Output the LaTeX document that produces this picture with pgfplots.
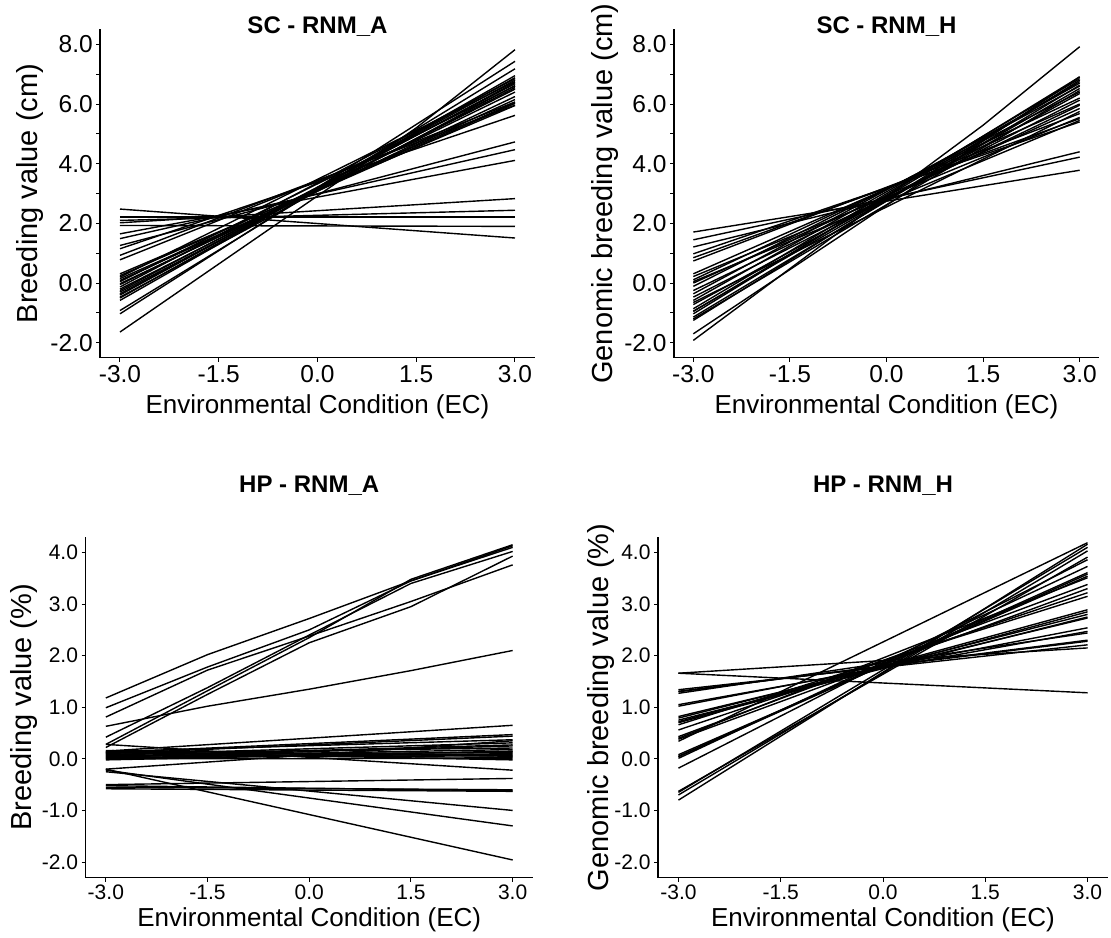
\documentclass[border=0pt]{standalone}
\usepackage{fontspec}
\setmainfont{Liberation Sans}
\usepackage{pgfplots}
\pgfplotsset{compat=1.18}

% shared look of the four reaction-norm panels
\pgfplotsset{
  rnm/.style={
    scale only axis,
    axis x line*=bottom, axis y line*=left,
    axis line style={-, line width=1.6pt},
    tick align=outside,
    major tick length=4pt,
    tick style={black, line width=1pt},
    xmin=-3.3, xmax=3.3,
    xtick={-3,-1.5,0,1.5,3},
    xticklabels={-3.0,-1.5,0.0,1.5,3.0},
    title style={font=\fontsize{24}{28}\selectfont\bfseries, anchor=center},
    xlabel style={font=\fontsize{26}{30}\selectfont, anchor=center},
    ylabel style={font=\fontsize{29}{33}\selectfont, anchor=center, rotate=0},
    xlabel={Environmental Condition (EC)},
  },
  top/.style={
    ymin=-2.5, ymax=8.5, height=328.3pt,
    ytick={-2,-1,...,8},
    yticklabels={-2.0,,0.0,,2.0,,4.0,,6.0,,8.0},
    tick label style={font=\fontsize{24.5}{24}\selectfont},
    title style={at={(axis description cs:0.5,0.989)}},
    xlabel style={at={(axis description cs:0.5,-0.149)}},
  },
  bot/.style={
    ymin=-2.3, ymax=4.3, height=340.5pt,
    ytick={-2,-1,...,4},
    yticklabels={-2.0,-1.0,0.0,1.0,2.0,3.0,4.0},
    tick label style={font=\fontsize{21}{21}\selectfont},
    title style={at={(axis description cs:0.5,1.132)}},
    xlabel style={at={(axis description cs:0.5,-0.125)}},
  },
  rn/.style={black, line width=1.4pt, mark=none},
}

\begin{document}
\begin{tikzpicture}
\path[use as bounding box] (0,0) rectangle (1111pt,937pt);

% ---------------- SC - RNM_A ----------------
\begin{axis}[rnm, top, width=434.5pt, at={(100.25pt,579.3pt)}, anchor=south west,
  title={SC - RNM\_A}, ylabel={Breeding value (cm)},
  ylabel style={at={(axis description cs:-0.162,0.5)}}]
\addplot[rn] coordinates {(-3,2.48) (3,1.51)};
\addplot[rn] coordinates {(-3,2.21) (3,2.21)};
\addplot[rn] coordinates {(-3,2.10) (3,2.44)};
\addplot[rn] coordinates {(-3,2.02) (3,2.83)};
\addplot[rn] coordinates {(-3,1.93) (3,1.90)};
\addplot[rn] coordinates {(-3,1.65) (3,4.11)};
\addplot[rn] coordinates {(-3,1.49) (3,4.47)};
\addplot[rn] coordinates {(-3,1.26) (3,4.73)};
\addplot[rn] coordinates {(-3,1.15) (3,5.62)};
\addplot[rn] coordinates {(-3,0.93) (3,5.96)};
\addplot[rn] coordinates {(-3,0.78) (3,6.07)};
\addplot[rn] coordinates {(-3,-1.64) (1.5,5.20) (3,7.82)};
\addplot[rn] coordinates {(-3,-1.03) (3,7.43)};
\addplot[rn] coordinates {(-3,-0.92) (3,7.18)};
\addplot[rn] coordinates {(-3,-0.58) (3,6.95)};
\addplot[rn] coordinates {(-3,-0.50) (3,6.88)};
\addplot[rn] coordinates {(-3,-0.47) (3,6.62)};
\addplot[rn] coordinates {(-3,-0.40) (3,6.80)};
\addplot[rn] coordinates {(-3,-0.36) (3,6.72)};
\addplot[rn] coordinates {(-3,-0.30) (3,6.55)};
\addplot[rn] coordinates {(-3,-0.25) (3,6.68)};
\addplot[rn] coordinates {(-3,-0.20) (3,6.50)};
\addplot[rn] coordinates {(-3,-0.13) (3,6.85)};
\addplot[rn] coordinates {(-3,-0.05) (3,6.40)};
\addplot[rn] coordinates {(-3,-0.02) (3,6.25)};
\addplot[rn] coordinates {(-3,0.05) (3,6.60)};
\addplot[rn] coordinates {(-3,0.09) (3,6.15)};
\addplot[rn] coordinates {(-3,0.15) (3,6.02)};
\addplot[rn] coordinates {(-3,0.20) (3,6.75)};
\addplot[rn] coordinates {(-3,0.25) (3,6.05)};
\addplot[rn] coordinates {(-3,0.31) (3,5.95)};
\end{axis}

% ---------------- SC - RNM_H ----------------
\begin{axis}[rnm, top, width=425pt, at={(674pt,579.3pt)}, anchor=south west,
  title={SC - RNM\_H}, ylabel={Genomic breeding value (cm)},
  ylabel style={at={(axis description cs:-0.162,0.5)}}]
\addplot[rn] coordinates {(-3,1.71) (3,3.78)};
\addplot[rn] coordinates {(-3,1.45) (3,4.22)};
\addplot[rn] coordinates {(-3,1.21) (3,4.40)};
\addplot[rn] coordinates {(-3,0.98) (3,5.40)};
\addplot[rn] coordinates {(-3,0.85) (3,5.51)};
\addplot[rn] coordinates {(-3,0.74) (3,5.68)};
\addplot[rn] coordinates {(-3,-1.92) (1.5,5.29) (3,7.92)};
\addplot[rn] coordinates {(-3,-1.70) (3,6.91)};
\addplot[rn] coordinates {(-3,-1.25) (3,6.80)};
\addplot[rn] coordinates {(-3,-1.14) (3,6.63)};
\addplot[rn] coordinates {(-3,-1.03) (3,6.91)};
\addplot[rn] coordinates {(-3,-0.94) (3,6.52)};
\addplot[rn] coordinates {(-3,-0.86) (3,6.85)};
\addplot[rn] coordinates {(-3,-0.72) (3,6.35)};
\addplot[rn] coordinates {(-3,-0.58) (3,6.70)};
\addplot[rn] coordinates {(-3,-0.47) (3,6.13)};
\addplot[rn] coordinates {(-3,-0.36) (3,6.60)};
\addplot[rn] coordinates {(-3,-0.25) (3,5.96)};
\addplot[rn] coordinates {(-3,-0.11) (3,6.40)};
\addplot[rn] coordinates {(-3,0.00) (3,5.85)};
\addplot[rn] coordinates {(-3,0.11) (3,6.20)};
\addplot[rn] coordinates {(-3,0.22) (3,5.55)};
\addplot[rn] coordinates {(-3,0.31) (3,6.00)};
\addplot[rn] coordinates {(-3,-0.95) (3,6.75)};
\addplot[rn] coordinates {(-3,-1.20) (3,6.45)};
\addplot[rn] coordinates {(-3,-0.65) (3,5.75)};
\addplot[rn] coordinates {(-3,0.05) (3,5.45)};
\end{axis}

% ---------------- HP - RNM_A ----------------
\begin{axis}[rnm, bot, width=447.5pt, at={(85.5pt,59.5pt)}, anchor=south west,
  title={HP - RNM\_A}, ylabel={Breeding value (\%)},
  ylabel style={at={(axis description cs:-0.137,0.5)}}]
% upper group
\addplot[rn] coordinates {(-3,1.18) (-1.5,2.02) (0,2.72) (1.5,3.45) (3,4.13)};
\addplot[rn] coordinates {(-3,0.99) (-1.5,1.78) (0,2.50) (1.5,3.45) (3,4.10)};
\addplot[rn] coordinates {(-3,0.81) (-1.5,1.72) (0,2.38) (1.5,3.05) (3,3.76)};
\addplot[rn] coordinates {(-3,0.42) (-1.5,1.38) (0,2.40) (1.5,3.40) (3,4.02)};
\addplot[rn] coordinates {(-3,0.22) (-1.5,1.25) (0,2.25) (1.5,2.95) (3,3.93)};
\addplot[rn] coordinates {(-3,0.28) (-1.5,1.32) (0,2.35) (1.5,3.48) (3,4.15)};
\addplot[rn] coordinates {(-3,0.63) (-1.5,1.02) (0,1.35) (1.5,1.71) (3,2.10)};
% band around zero
\addplot[rn] coordinates {(-3,0.15) (3,0.65)};
\addplot[rn] coordinates {(-3,0.12) (3,0.47)};
\addplot[rn] coordinates {(-3,0.10) (3,0.44)};
\addplot[rn] coordinates {(-3,0.14) (3,0.37)};
\addplot[rn] coordinates {(-3,0.08) (3,0.31)};
\addplot[rn] coordinates {(-3,0.05) (3,0.27)};
\addplot[rn] coordinates {(-3,0.11) (3,0.21)};
\addplot[rn] coordinates {(-3,0.02) (3,0.14)};
\addplot[rn] coordinates {(-3,0.06) (3,0.08)};
\addplot[rn] coordinates {(-3,0.00) (3,0.01)};
\addplot[rn] coordinates {(-3,0.13) (3,-0.02)};
\addplot[rn] coordinates {(-3,0.04) (3,0.18)};
\addplot[rn] coordinates {(-3,0.09) (3,0.12)};
\addplot[rn] coordinates {(-3,0.16) (3,0.05)};
\addplot[rn] coordinates {(-3,0.03) (3,0.25)};
\addplot[rn] coordinates {(-3,0.07) (3,0.03)};
\addplot[rn] coordinates {(-3,0.01) (3,0.10)};
\addplot[rn] coordinates {(-3,0.12) (3,0.06)};
\addplot[rn] coordinates {(-3,-0.02) (3,0.15)};
\addplot[rn] coordinates {(-3,0.28) (3,-0.22)};
\addplot[rn] coordinates {(-3,-0.20) (3,0.35)};
% lower group
\addplot[rn] coordinates {(-3,-0.20) (3,-1.96)};
\addplot[rn] coordinates {(-3,-0.22) (3,-1.30)};
\addplot[rn] coordinates {(-3,-0.25) (3,-1.00)};
\addplot[rn] coordinates {(-3,-0.50) (3,-0.38)};
\addplot[rn] coordinates {(-3,-0.52) (3,-0.62)};
\addplot[rn] coordinates {(-3,-0.55) (3,-0.60)};
\addplot[rn] coordinates {(-3,-0.58) (3,-0.63)};
\end{axis}

% ---------------- HP - RNM_H ----------------
\begin{axis}[rnm, bot, width=450pt, at={(658pt,59.5pt)}, anchor=south west,
  title={HP - RNM\_H}, ylabel={Genomic breeding value (\%)},
  ylabel style={at={(axis description cs:-0.127,0.5)}}]
\addplot[rn] coordinates {(-3,1.66) (3,1.28)};
\addplot[rn] coordinates {(-3,1.66) (3,2.15)};
\addplot[rn] coordinates {(-3,1.34) (3,2.21)};
\addplot[rn] coordinates {(-3,1.31) (3,2.28)};
\addplot[rn] coordinates {(-3,1.27) (3,2.44)};
\addplot[rn] coordinates {(-3,1.30) (3,2.30)};
\addplot[rn] coordinates {(-3,1.05) (3,2.47)};
\addplot[rn] coordinates {(-3,1.02) (3,2.54)};
\addplot[rn] coordinates {(-3,0.82) (3,2.73)};
\addplot[rn] coordinates {(-3,0.79) (3,2.80)};
\addplot[rn] coordinates {(-3,0.75) (3,2.75)};
\addplot[rn] coordinates {(-3,0.72) (3,2.89)};
\addplot[rn] coordinates {(-3,0.70) (3,2.85)};
\addplot[rn] coordinates {(-3,0.66) (3,3.15)};
\addplot[rn] coordinates {(-3,0.56) (3,3.22)};
\addplot[rn] coordinates {(-3,0.43) (3,3.38)};
\addplot[rn] coordinates {(-3,0.38) (3,3.30)};
\addplot[rn] coordinates {(-3,0.40) (3,3.51)};
\addplot[rn] coordinates {(-3,0.34) (3,4.19)};
\addplot[rn] coordinates {(-3,0.08) (3,3.54)};
\addplot[rn] coordinates {(-3,0.05) (3,3.61)};
\addplot[rn] coordinates {(-3,0.04) (3,3.58)};
\addplot[rn] coordinates {(-3,0.01) (3,3.73)};
\addplot[rn] coordinates {(-3,-0.18) (3,3.86)};
\addplot[rn] coordinates {(-3,-0.63) (3,3.91)};
\addplot[rn] coordinates {(-3,-0.65) (3,4.10)};
\addplot[rn] coordinates {(-3,-0.70) (3,4.03)};
\addplot[rn] coordinates {(-3,-0.80) (3,4.16)};
\end{axis}
\end{tikzpicture}
\end{document}
